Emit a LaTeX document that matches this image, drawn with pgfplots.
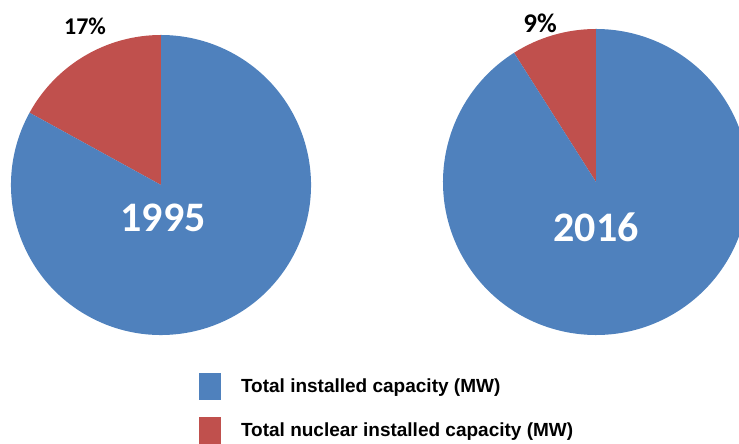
\documentclass[border=0pt]{standalone}
\usepackage{pgfplots}
\pgfplotsset{compat=1.18}
\usepackage{pgfplotstable}
\usepackage{fontspec}
\setmainfont{Liberation Sans}
\newfontfamily\calibri{Carlito}

\definecolor{capBlue}{HTML}{4F81BD}
\definecolor{nucRed}{HTML}{C0504D}

% nuclear share of total installed capacity (%)
\pgfplotstableread{
year share
1995 17
2016 9
}\capdata

\pgfplotstablegetelem{0}{share}\of\capdata \edef\shareA{\pgfplotsretval}
\pgfplotstablegetelem{1}{share}\of\capdata \edef\shareB{\pgfplotsretval}
\pgfmathsetmacro\angA{90+3.6*\shareA}
\pgfmathsetmacro\angB{90+3.6*\shareB}

\begin{document}
\begin{tikzpicture}
\begin{axis}[
  x=1bp, y=1bp, xmin=0, xmax=739, ymin=0, ymax=444,
  scale only axis, hide axis, clip=true,
  legend image code/.code={\fill[#1, draw=none] (0bp,-13.5bp) rectangle (22bp,13.5bp);},
  legend style={at={(axis cs:199,71)}, anchor=north west, draw=none, fill=none,
    inner sep=0pt, outer sep=0pt, row sep=17bp, column sep=20bp,
    cells={anchor=west}, nodes={inner sep=0pt},
    font=\fontsize{19bp}{21bp}\selectfont\bfseries},
]
  % 1995 pie
  \fill[nucRed] (axis cs:161,259) -- ++(90:150bp)
    arc[start angle=90, end angle=\angA, radius=150bp] -- cycle;
  \fill[capBlue] (axis cs:161,259) -- ++(\angA:150bp)
    arc[start angle=\angA, end angle=450, radius=150bp] -- cycle;
  % 2016 pie
  \fill[nucRed] (axis cs:596,262) -- ++(90:153bp)
    arc[start angle=90, end angle=\angB, radius=153bp] -- cycle;
  \fill[capBlue] (axis cs:596,262) -- ++(\angB:153bp)
    arc[start angle=\angB, end angle=450, radius=153bp] -- cycle;

  \node[font=\calibri\bfseries\fontsize{42bp}{42bp}\selectfont, text=white]
    at (axis cs:163,226) {1995};
  \node[font=\calibri\bfseries\fontsize{42bp}{42bp}\selectfont, text=white]
    at (axis cs:596,217) {2016};
  \node[font=\calibri\bfseries\fontsize{24bp}{24bp}\selectfont]
    at (axis cs:85,418) {17\%};
  \node[font=\calibri\bfseries\fontsize{27bp}{27bp}\selectfont]
    at (axis cs:540,421) {9\%};

  \addlegendimage{fill=capBlue, draw=none}
  \addlegendentry{Total installed capacity (MW)}
  \addlegendimage{fill=nucRed, draw=none}
  \addlegendentry{Total nuclear installed capacity (MW)}
\end{axis}
\pgfresetboundingbox
\useasboundingbox (current axis.south west) rectangle (current axis.north east);
\end{tikzpicture}
\end{document}
